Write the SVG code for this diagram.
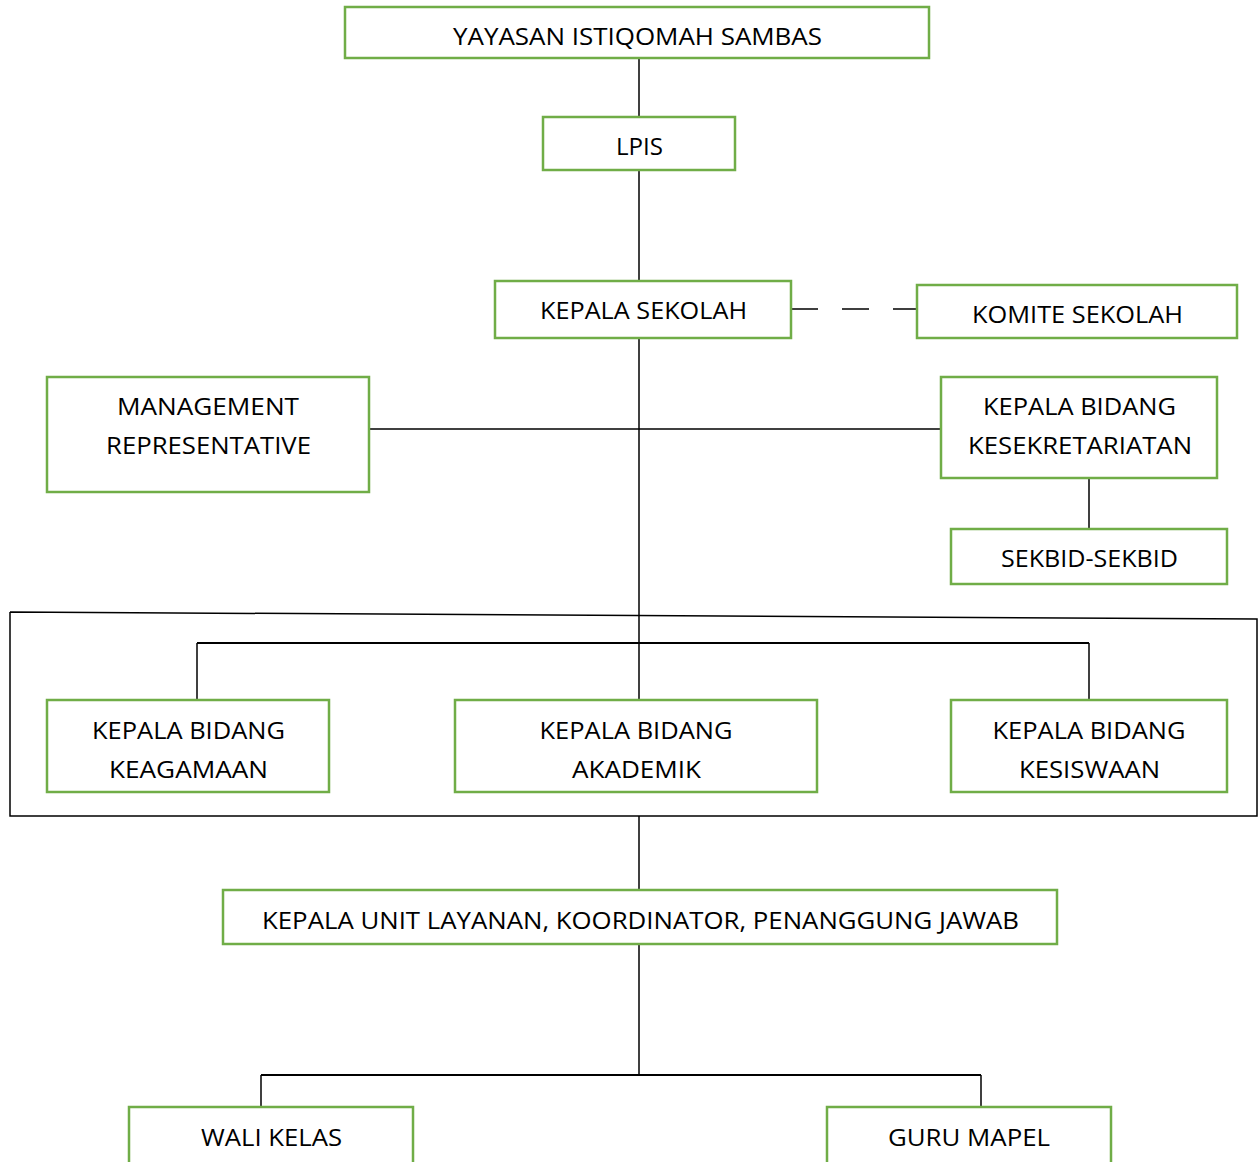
<svg xmlns="http://www.w3.org/2000/svg" width="1260" height="1162" viewBox="0 0 1260 1162">
<style>
.box{fill:#fff;stroke:#70AD47;stroke-width:2.5}
.t{font-family:"Open Sans","Noto Sans",sans-serif;font-size:24px;fill:#000;text-anchor:middle}
.ln{stroke:#000;stroke-width:1.5;fill:none}
.lt{stroke:#000;stroke-width:2.2;fill:none}
</style>
<rect width="1260" height="1162" fill="#fff"/>
<g id="connectors">
<line class="ln" x1="639" y1="58" x2="639" y2="117"/>
<line class="ln" x1="639" y1="170" x2="639" y2="281"/>
<line class="ln" x1="639" y1="338" x2="639" y2="700"/>
<line class="ln" x1="791" y1="309" x2="917" y2="309" stroke-dasharray="27,24"/>
<line class="ln" x1="369" y1="429" x2="941" y2="429"/>
<line class="ln" x1="1089" y1="478" x2="1089" y2="529"/>
<polyline class="ln" points="10,612 1257,619 1257,816 10,816 10,612"/>
<line class="lt" x1="197" y1="643" x2="1089" y2="643"/>
<line class="ln" x1="197" y1="643" x2="197" y2="700"/>
<line class="ln" x1="1089" y1="643" x2="1089" y2="700"/>
<line class="ln" x1="639" y1="816" x2="639" y2="890"/>
<line class="ln" x1="639" y1="944" x2="639" y2="1075"/>
<line class="lt" x1="261" y1="1075" x2="981" y2="1075"/>
<line class="ln" x1="261" y1="1075" x2="261" y2="1107"/>
<line class="ln" x1="981" y1="1075" x2="981" y2="1107"/>
</g>
<g id="yayasan"><rect class="box" x="345" y="7" width="584" height="51"/><text class="t" x="637.5" y="45" textLength="369" lengthAdjust="spacingAndGlyphs">YAYASAN ISTIQOMAH SAMBAS</text></g>
<g id="lpis"><rect class="box" x="543" y="117" width="192" height="53"/><text class="t" x="639.5" y="155" textLength="47" lengthAdjust="spacingAndGlyphs">LPIS</text></g>
<g id="kepala-sekolah"><rect class="box" x="495" y="281" width="296" height="57"/><text class="t" x="643.5" y="319" textLength="207" lengthAdjust="spacingAndGlyphs">KEPALA SEKOLAH</text></g>
<g id="komite"><rect class="box" x="917" y="285" width="320" height="53"/><text class="t" x="1077.5" y="323" textLength="211" lengthAdjust="spacingAndGlyphs">KOMITE SEKOLAH</text></g>
<g id="management"><rect class="box" x="47" y="377" width="322" height="115"/><text class="t" x="208" y="415" textLength="182" lengthAdjust="spacingAndGlyphs">MANAGEMENT</text><text class="t" x="208.5" y="454" textLength="205" lengthAdjust="spacingAndGlyphs">REPRESENTATIVE</text></g>
<g id="kesekretariatan"><rect class="box" x="941" y="377" width="276" height="101"/><text class="t" x="1079.5" y="415" textLength="193" lengthAdjust="spacingAndGlyphs">KEPALA BIDANG</text><text class="t" x="1080" y="454" textLength="224" lengthAdjust="spacingAndGlyphs">KESEKRETARIATAN</text></g>
<g id="sekbid"><rect class="box" x="951" y="529" width="276" height="55"/><text class="t" x="1089.5" y="567" textLength="177" lengthAdjust="spacingAndGlyphs">SEKBID-SEKBID</text></g>
<g id="keagamaan"><rect class="box" x="47" y="700" width="282" height="92"/><text class="t" x="188.5" y="739" textLength="193" lengthAdjust="spacingAndGlyphs">KEPALA BIDANG</text><text class="t" x="188.5" y="778" textLength="159" lengthAdjust="spacingAndGlyphs">KEAGAMAAN</text></g>
<g id="akademik"><rect class="box" x="455" y="700" width="362" height="92"/><text class="t" x="636" y="739" textLength="193" lengthAdjust="spacingAndGlyphs">KEPALA BIDANG</text><text class="t" x="636.5" y="778" textLength="129" lengthAdjust="spacingAndGlyphs">AKADEMIK</text></g>
<g id="kesiswaan"><rect class="box" x="951" y="700" width="276" height="92"/><text class="t" x="1089" y="739" textLength="193" lengthAdjust="spacingAndGlyphs">KEPALA BIDANG</text><text class="t" x="1089.5" y="778" textLength="141" lengthAdjust="spacingAndGlyphs">KESISWAAN</text></g>
<g id="kepala-unit"><rect class="box" x="223" y="890" width="834" height="54"/><text class="t" x="640.5" y="929" textLength="757" lengthAdjust="spacingAndGlyphs">KEPALA UNIT LAYANAN, KOORDINATOR, PENANGGUNG JAWAB</text></g>
<g id="wali-kelas"><rect class="box" x="129" y="1107" width="284" height="70"/><text class="t" x="271.5" y="1146" textLength="141" lengthAdjust="spacingAndGlyphs">WALI KELAS</text></g>
<g id="guru-mapel"><rect class="box" x="827" y="1107" width="284" height="70"/><text class="t" x="969" y="1146" textLength="162" lengthAdjust="spacingAndGlyphs">GURU MAPEL</text></g>
</svg>
